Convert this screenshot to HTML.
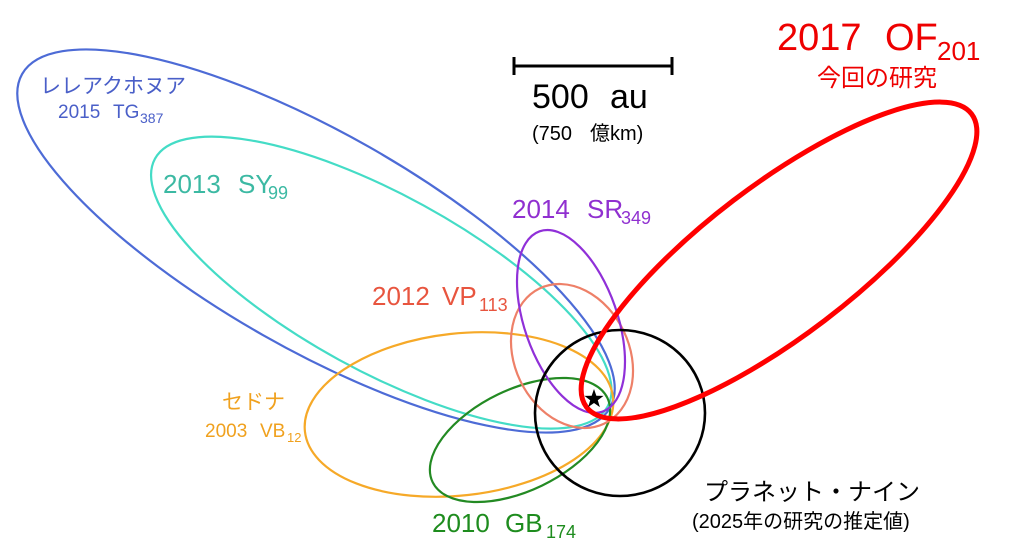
<!DOCTYPE html>
<html>
<head>
<meta charset="utf-8">
<style>
html,body{margin:0;padding:0;background:#fff;}
svg{display:block;}
text{font-family:"Liberation Sans","Noto Sans CJK JP",sans-serif;}
</style>
</head>
<body>
<svg width="1024" height="553" viewBox="0 0 1024 553" xmlns="http://www.w3.org/2000/svg">
<rect width="1024" height="553" fill="#fff"/>
<g fill="none">
  <ellipse cx="316" cy="241" rx="338" ry="108" transform="rotate(29.6 316 241)" stroke="#4d6bd6" stroke-width="2.2"/>
  <ellipse cx="381.3" cy="282.6" rx="258" ry="88" transform="rotate(28.7 381.3 282.6)" stroke="#44dcc6" stroke-width="2.2"/>
  <ellipse cx="459" cy="414.5" rx="155" ry="81" transform="rotate(-6.3 459 414.5)" stroke="#f6a928" stroke-width="2.2"/>
  <ellipse cx="520" cy="440" rx="97" ry="50.6" transform="rotate(-25.7 520 440)" stroke="#238a23" stroke-width="2.2"/>
  <ellipse cx="572" cy="356" rx="57.4" ry="74.9" transform="rotate(-25.5 572 356)" stroke="#ee8068" stroke-width="2.2"/>
  <ellipse cx="571" cy="321.5" rx="46.5" ry="95.5" transform="rotate(-19.2 571 321.5)" stroke="#9030d8" stroke-width="2.2"/>
  <ellipse cx="620" cy="413" rx="85" ry="83" stroke="#000" stroke-width="2.6"/>
  <ellipse cx="779" cy="260.5" rx="242" ry="75.4" transform="rotate(-37.3 779 260.5)" stroke="#ff0000" stroke-width="5"/>
</g>
<polygon points="594,389 596.35,395.76 603.51,395.91 597.8,400.24 599.88,407.09 594,403 588.12,407.09 590.2,400.24 584.49,395.91 591.65,395.76" fill="#000"/>

<!-- scale bar -->
<g stroke="#000" stroke-width="3">
  <line x1="514" y1="66" x2="672" y2="66"/>
  <line x1="514" y1="57" x2="514" y2="75"/>
  <line x1="672" y1="57" x2="672" y2="75"/>
</g>
<text x="532" y="108" font-size="34" fill="#000">500</text>
<text x="610" y="108" font-size="34" fill="#000">au</text>
<text x="532" y="140" font-size="20" fill="#000">(750</text>
<text x="590" y="140" font-size="20" fill="#000">億km)</text>

<!-- 2017 OF201 -->
<g fill="#ee0000">
  <text x="777" y="50" font-size="38">2017</text>
  <text x="885" y="50" font-size="38">OF</text>
  <text x="937" y="60" font-size="26">201</text>
  <text x="817" y="86" font-size="24">今回の研究</text>
</g>

<!-- TG387 -->
<g fill="#4a5fc8">
  <text x="40" y="93" font-size="21">レレアクホヌア</text>
  <text x="58" y="118" font-size="19">2015</text>
  <text x="113" y="118" font-size="19">TG</text>
  <text x="140" y="123" font-size="14">387</text>
</g>

<!-- SY99 -->
<g fill="#3cb9a3">
  <text x="163" y="193" font-size="26">2013</text>
  <text x="238" y="193" font-size="26">SY</text>
  <text x="268" y="199" font-size="18">99</text>
</g>

<!-- SR349 -->
<g fill="#9030d0">
  <text x="512" y="218" font-size="26">2014</text>
  <text x="587" y="218" font-size="26">SR</text>
  <text x="621" y="224" font-size="18">349</text>
</g>

<!-- VP113 -->
<g fill="#e8553f">
  <text x="372" y="305" font-size="26">2012</text>
  <text x="442" y="305" font-size="26">VP</text>
  <text x="479" y="311" font-size="18">113</text>
</g>

<!-- Sedna -->
<g fill="#f0a11e">
  <text x="222" y="409" font-size="21">セドナ</text>
  <text x="205" y="437" font-size="19">2003</text>
  <text x="260" y="437" font-size="19">VB</text>
  <text x="287" y="442" font-size="13">12</text>
</g>

<!-- GB174 -->
<g fill="#1e8c1e">
  <text x="432" y="532" font-size="26">2010</text>
  <text x="505" y="532" font-size="26">GB</text>
  <text x="546" y="538" font-size="18">174</text>
</g>

<!-- Planet Nine -->
<text x="704" y="500" font-size="24" fill="#000">プラネット・ナイン</text>
<text x="692" y="528" font-size="20" fill="#000">(2025年の研究の推定値)</text>
</svg>
</body>
</html>
